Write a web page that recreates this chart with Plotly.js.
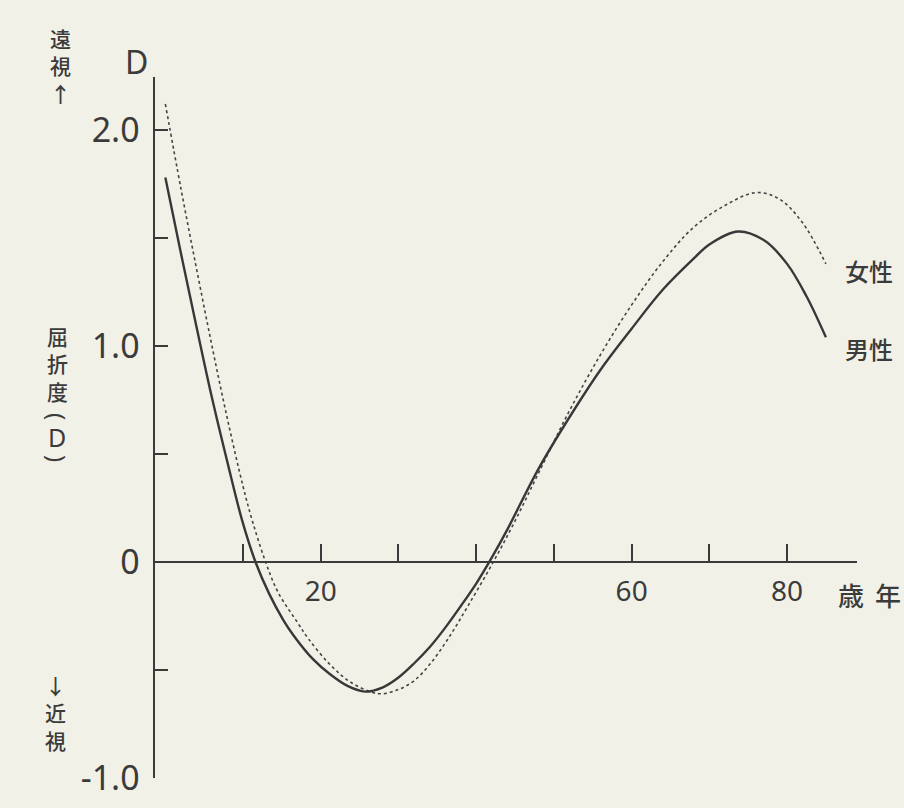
<!DOCTYPE html>
<html>
<head>
<meta charset="utf-8">
<script src="https://cdn.plot.ly/plotly-3.0.1.min.js"></script>
<style>
  html, body { margin: 0; padding: 0; background: #f2f1e7; }
  #chart { width: 904px; height: 808px; }
</style>
</head>
<body>
<div id="chart"></div>
<script>
// ---- data ----
const maleAge = [0, 2, 4, 6, 8, 9.9, 11.6, 13.4, 15.2, 16.5, 19, 21.2, 23.5, 25.7, 28, 30, 32, 34, 36, 38, 40, 42, 44, 48, 52, 56, 60, 64, 68, 70, 73.7, 77, 80, 82.5, 85];
const maleVal = [1.78, 1.43, 1.09, 0.76, 0.46, 0.19, 0.0, -0.15, -0.27, -0.34, -0.45, -0.52, -0.575, -0.60, -0.58, -0.535, -0.47, -0.395, -0.305, -0.205, -0.10, 0.02, 0.15, 0.43, 0.67, 0.89, 1.08, 1.26, 1.405, 1.47, 1.53, 1.49, 1.38, 1.23, 1.04];

const femaleAge = [0, 2, 4, 6, 8, 10, 11.2, 12.9, 14.5, 17, 18.4, 21.2, 24, 27.5, 30, 32, 34, 36.3, 39, 42.2, 45, 48, 52, 56, 60, 64, 68, 72, 76, 79, 82, 85];
const femaleVal = [2.12, 1.73, 1.36, 1.0, 0.66, 0.35, 0.19, 0.0, -0.14, -0.28, -0.355, -0.475, -0.56, -0.61, -0.59, -0.55, -0.475, -0.36, -0.20, 0.0, 0.19, 0.41, 0.70, 0.96, 1.19, 1.39, 1.55, 1.65, 1.71, 1.68, 1.57, 1.38];

const xTickVals = [10, 20, 30, 40, 50, 60, 70, 80];
const xTickText = ['', '20', '', '', '', '60', '', '80'];
const yTickVals = [-1, -0.5, 0, 0.5, 1, 1.5, 2];
const yTickText = ['-1.0', '', '0', '', '1.0', '', '2.0'];

const maleLabel = '男性';
const femaleLabel = '女性';
const xUnitA = '歳';
const xUnitB = '年';
const yUnitTop = 'D';
const yTitleMain = '屈<br>折<br>度';
const yTitleUnit = 'D';
const farText = '遠<br>視<br>↑';
const nearText = '↓<br>近<br>視';

// ---- layout helpers ----
const W = 904, H = 808;
const L = 155, R = 857, T = 77, B = 778;
const yMin = -1.0, yMax = 2.245;
const px = x => (x - L) / (R - L);
const py = y => (B - y) / (B - T);

const ink = '#3b3b3b';
const cjk = '"Noto Sans CJK JP", "Noto Sans", sans-serif';
const latin = '"Noto Sans", "Open Sans", sans-serif';

const ann = [];
function addText(text, x, y, size, fam, opts) {
  const o = opts || {};
  ann.push({
    text: text, xref: 'paper', yref: 'paper', x: px(x), y: py(y),
    xanchor: o.xanchor || 'center', yanchor: 'middle', showarrow: false,
    textangle: o.angle || 0,
    font: { family: fam, size: size, color: ink, weight: o.weight || 500 }
  });
}
addText(yUnitTop, 136, 62, 32, latin, { weight: 400 });
addText(farText, 60, 65, 21, cjk);
addText(yTitleMain, 57, 363, 21, cjk);
addText('(', 57, 416, 24, latin, { angle: 90, weight: 400 });
addText(yTitleUnit, 57, 437, 25, latin, { weight: 400 });
addText(')', 57, 458, 24, latin, { angle: 90, weight: 400 });
addText(nearText, 55, 712, 21, cjk);
addText(xUnitA, 851, 594, 26, cjk);
addText(xUnitB, 903, 594, 26, cjk, { xanchor: 'right' });
addText(femaleLabel, 843, 270, 24, cjk, { xanchor: 'left' });
addText(maleLabel, 843, 348, 24, cjk, { xanchor: 'left' });

const traces = [
  {
    x: femaleAge, y: femaleVal, type: 'scatter', mode: 'lines', name: femaleLabel,
    line: { color: '#444444', width: 1.6, dash: 'dot', shape: 'spline', smoothing: 1.0 },
    hoverinfo: 'skip'
  },
  {
    x: maleAge, y: maleVal, type: 'scatter', mode: 'lines', name: maleLabel,
    line: { color: '#383838', width: 2.4, shape: 'spline', smoothing: 1.0 },
    hoverinfo: 'skip'
  }
];

const layout = {
  width: W, height: H,
  margin: { l: L, r: W - R, t: T, b: H - B, pad: 0 },
  paper_bgcolor: '#f2f1e7',
  plot_bgcolor: 'rgba(0,0,0,0)',
  showlegend: false,
  xaxis: {
    range: [-1.33, 89.0],
    anchor: 'free', position: (0 - yMin) / (yMax - yMin),
    showline: true, linecolor: ink, linewidth: 2.5,
    showgrid: false, zeroline: false,
    ticks: 'inside', ticklen: 17, tickwidth: 2, tickcolor: ink,
    tickvals: xTickVals, ticktext: xTickText,
    tickfont: { family: latin, size: 28, color: ink },
    ticklabelstandoff: 4
  },
  yaxis: {
    range: [yMin, yMax],
    showline: true, linecolor: ink, linewidth: 2.5,
    showgrid: false, zeroline: false,
    ticks: 'inside', ticklen: 13, tickwidth: 2, tickcolor: ink,
    tickvals: yTickVals, ticktext: yTickText,
    tickfont: { family: latin, size: 34, color: ink },
    ticklabelstandoff: 6
  },
  annotations: ann
};

Plotly.newPlot('chart', traces, layout, { staticPlot: true, displayModeBar: false });
</script>
</body>
</html>
